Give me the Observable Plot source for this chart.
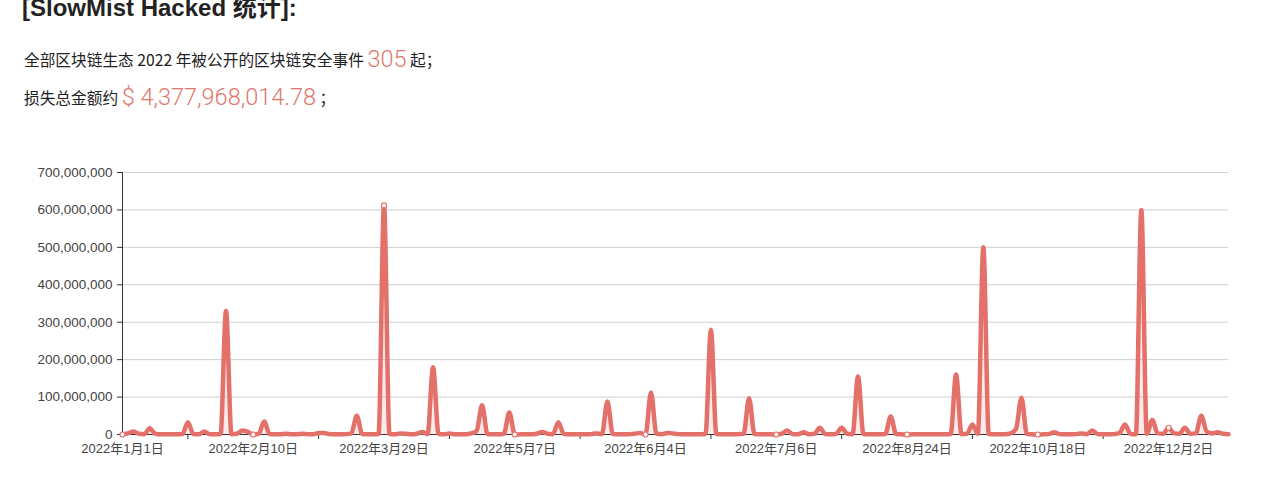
<!DOCTYPE html>
<html>
<head>
<meta charset="utf-8">
<script src="https://cdn.jsdelivr.net/npm/d3@7"></script>
<script src="https://cdn.jsdelivr.net/npm/@observablehq/plot@0.6"></script>
<style>
  html, body { margin: 0; padding: 0; background: #fff; }
  #page { position: relative; width: 1280px; height: 494px; overflow: hidden; background: #fff;
          font-family: "Liberation Sans", "Noto Sans CJK SC", sans-serif; color: #222; }
  .title { position: absolute; left: 22px; top: -4px; font-size: 24px; font-weight: bold; line-height: 24px; white-space: nowrap; }
  .line { position: absolute; left: 24px; font-size: 15.7px; white-space: nowrap; line-height: 24px;
          font-family: "Noto Sans CJK SC", sans-serif; color: #222; }
  .num { font-family: Roboto, "Liberation Sans", sans-serif; font-weight: 300; font-size: 23.5px; color: #e0776d; vertical-align: -1px; }
  #chart { position: absolute; left: 0; top: 150px; }
</style>
</head>
<body>
<div id="page">
  <div class="title">[SlowMist Hacked 统计]:</div>
  <div class="line" style="top:47px">全部区块链生态 2022 年被公开的区块链安全事件 <span class="num">305</span> 起；</div>
  <div class="line" style="top:85px">损失总金额约 <span class="num">$ 4,377,968,014.78</span> ；</div>
  <div id="chart"></div>
</div>
<script>
// Category axis tick labels (every 24th event-day category)
const tickLabels = ["2022年1月1日", "2022年2月10日", "2022年3月29日", "2022年5月7日", "2022年6月4日",
                    "2022年7月6日", "2022年8月24日", "2022年10月18日", "2022年12月2日"];
const labelIdx = [0, 24, 48, 72, 96, 120, 144, 168, 192];
const tickIdx = [12, 36, 60, 84, 108, 132, 156, 180];
const yTicks = [0, 100e6, 200e6, 300e6, 400e6, 500e6, 600e6, 700e6];

// Loss per category (million USD)
const lossMillions = [
  0, 3, 8, 2, 1, 17, 2, 0.5, 0.5, 0.5,
  0.5, 1, 33, 1, 0.5, 8, 1, 0.5, 1, 330,
  1, 2, 11, 7, 0, 2, 35, 1, 0.5, 0.5,
  2, 0.5, 0.5, 2, 1, 0.5, 4, 4, 1, 0.5,
  0.5, 1, 3, 50, 1, 0.5, 0.5, 1, 612, 1,
  0.5, 3, 2, 0.5, 2, 7, 1, 180, 2, 0.5,
  3, 0.5, 0.5, 0.5, 3, 10, 78, 1, 0.5, 0.5,
  2, 59, 0, 0.5, 1, 0.5, 2, 7, 2, 1,
  33, 1, 0.5, 0.5, 0.5, 0.5, 1, 3, 1, 88,
  1, 0.5, 0.5, 1, 2, 4, 0, 112, 2, 1,
  4, 3, 1, 0.5, 0.5, 0.5, 0.5, 1, 280, 1,
  0.5, 0.5, 0.5, 1, 2, 97, 1, 0.5, 0.5, 0.5,
  0, 2, 11, 1, 0.5, 6, 1, 2, 18, 1,
  0.5, 2, 18, 2, 1, 155, 1, 0.5, 0.5, 0.5,
  1, 48, 1, 0.5, 0, 0.5, 0.5, 0.5, 0.5, 0.5,
  0.5, 0.5, 1, 160, 1, 2, 27, 2, 500, 1,
  0.5, 0.5, 0.5, 3, 15, 98, 1, 0.5, 0, 0.5,
  1, 6, 1, 0.5, 0.5, 1, 3, 1, 11, 1,
  0.5, 0.5, 1, 4, 27, 2, 0.5, 600, 2, 39,
  3, 2, 18, 3, 2, 18, 2, 3, 50, 8,
  3, 6, 2, 0.5
];

const data = lossMillions.map((m, i) => ({i, v: m * 1e6}));
const lineColor = "#e4706a";
const fmt = d3.format(",");

const chart = Plot.plot({
  width: 1280,
  height: 320,
  marginLeft: 122,
  marginRight: 52,
  marginTop: 22,
  marginBottom: 36,
  style: {fontFamily: "'Liberation Sans', 'Noto Sans CJK SC', sans-serif", fontSize: "13px", color: "#444", background: "transparent"},
  x: {type: "linear", domain: [0, lossMillions.length - 1]},
  y: {domain: [0, 700e6]},
  marks: [
    Plot.gridY(yTicks, {stroke: "#cfcfcf", strokeOpacity: 1}),
    Plot.areaY(data, {x: "i", y: "v", curve: "monotone-x", fill: lineColor, fillOpacity: 0.15}),
    Plot.ruleY([0], {stroke: "#333"}),
    Plot.ruleX([0], {y1: 0, y2: 700e6, stroke: "#333"}),
    Plot.axisY(yTicks, {tickSize: 5, tickPadding: 5, tickFormat: fmt, label: null, stroke: "#333", fontSize: 13.5}),
    Plot.axisX(labelIdx, {tickSize: 0, tickPadding: 9, tickFormat: d => tickLabels[labelIdx.indexOf(d)], label: null, fontSize: 13}),
    Plot.axisX(tickIdx, {tickSize: 5, tickFormat: () => "", label: null, stroke: "#333"}),
    Plot.line(data, {x: "i", y: "v", curve: "monotone-x", stroke: lineColor, strokeWidth: 4.5, strokeLinejoin: "round"}),
    Plot.dot(data.filter(d => labelIdx.includes(d.i)), {x: "i", y: "v", r: 2.5, fill: "white", stroke: lineColor, strokeWidth: 1.2})
  ]
});
document.getElementById("chart").appendChild(chart);
</script>
</body>
</html>
